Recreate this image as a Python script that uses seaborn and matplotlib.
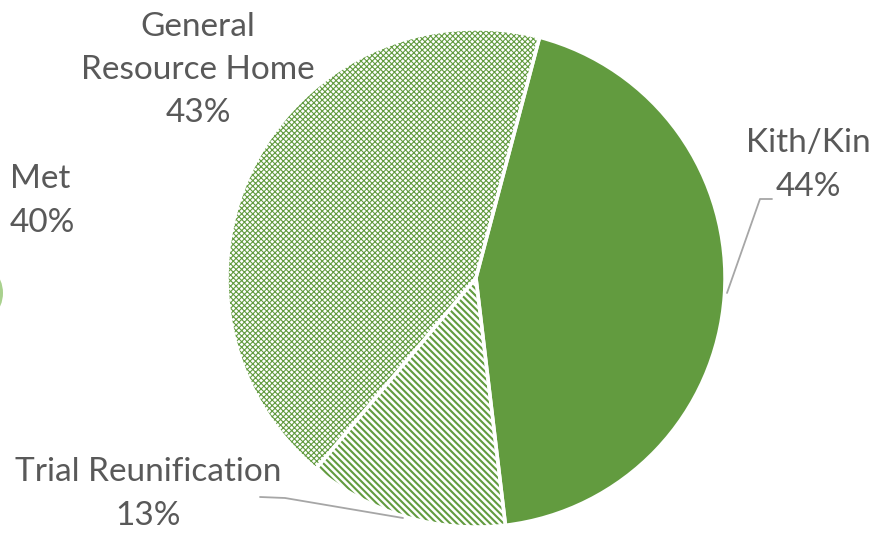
import matplotlib
matplotlib.use("Agg")
import matplotlib.pyplot as plt
import seaborn as sns
from matplotlib.patches import Circle

# data
labels = ["Kith/Kin", "Trial Reunification", "General Resource Home"]
pcts = [44, 13, 43]
label_text = ["Kith/Kin\n44%", "Trial Reunification\n13%", "General\nResource Home\n43%"]
other_label = "Met\n40%"

green = "#629b3f"
hatches = ["", "\\\\\\\\\\", "xxxxxx"]

sns.set_theme(style="white")
plt.rcParams["font.family"] = ["Lato", "DejaVu Sans"]
plt.rcParams["hatch.linewidth"] = 1.0

W, H = 887, 533
fig = plt.figure(figsize=(W / 100, H / 100), dpi=100)
ax = fig.add_axes([0, 0, 1, 1])

cx, cy, r = 476, H - 278, 249
start = 90 - 14.8

# filled / hatched slices
wedges, _ = ax.pie(pcts, center=(cx, cy), radius=r, startangle=start,
                   counterclock=False, colors=[green, "white", "white"],
                   wedgeprops=dict(linewidth=0, edgecolor=green))
lws = [1.0, 1.5, 0.8]
for w, h, lw in zip(wedges, hatches, lws):
    if h:
        w.set_hatch(h)
        w.set_edgecolor(green)
        if hasattr(w, "set_hatch_linewidth"):
            w.set_hatch_linewidth(lw)

# white separators between slices
ax.pie(pcts, center=(cx, cy), radius=r, startangle=start, counterclock=False,
       colors=["none"] * 3,
       wedgeprops=dict(linewidth=2.5, edgecolor="white", fill=False))

txt = dict(color="#595959", fontsize=24, linespacing=1.55)
ax.text(808, H - 165, label_text[0], ha="center", va="center", **txt)
ax.text(148, H - 494, label_text[1], ha="center", va="center", **txt)
ax.text(198, H - 70, label_text[2], ha="center", va="center", **txt)
ax.text(10, H - 201, other_label, ha="left", va="center", **txt)

# leader lines
lc = "#a6a6a6"
ax.plot([772, 760, 727], [H - 199, H - 199, H - 293], color=lc, lw=1.3)
ax.plot([260, 285, 403], [H - 497, H - 498, H - 518], color=lc, lw=1.3)

# edge of the neighbouring chart, cut off at the left border
ax.add_patch(Circle((-30, H - 293), 33, facecolor="#a9d18e", edgecolor="none"))

ax.set_xlim(0, W)
ax.set_ylim(0, H)
ax.set_aspect("auto")
ax.axis("off")

fig.savefig("out.png", dpi=100, facecolor="white")
